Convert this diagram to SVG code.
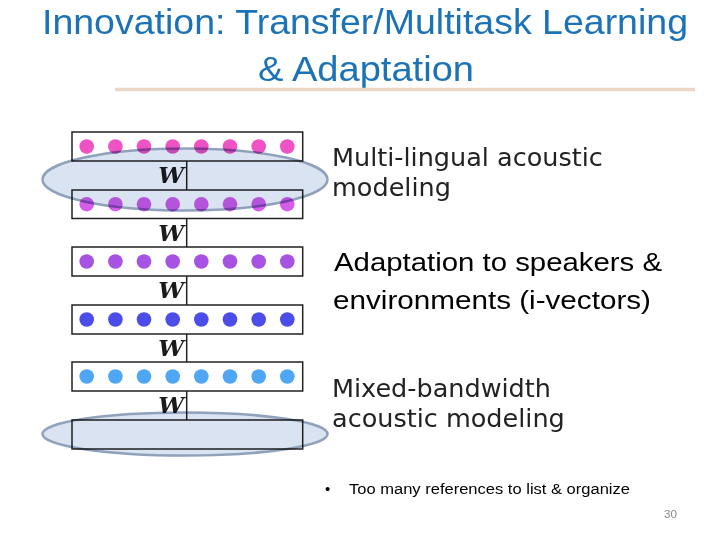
<svg xmlns="http://www.w3.org/2000/svg" width="720" height="540" viewBox="0 0 720 540">
<style>
.box{fill:#fff;stroke:#222;stroke-width:1.5}
.ell{fill:#d9e3f1;stroke:#8fa1bb;stroke-width:2.5;mix-blend-mode:multiply}
.w{font-family:"DejaVu Serif",serif;font-style:italic;font-weight:bold;font-size:23px;fill:#1a1a1a;text-anchor:end}
.lbl{font-family:"DejaVu Sans",sans-serif;font-size:25.5px;fill:#222}
.cal{font-family:"Liberation Sans",sans-serif;fill:#000}
.title{font-family:"Liberation Sans",sans-serif;font-size:35px;fill:#1c72b6;text-anchor:middle}
.conn{stroke:#222;stroke-width:1.5;fill:none}
</style>
<defs>
<g id="dots">
<circle cx="86.7" cy="0" r="7.3"/><circle cx="115.4" cy="0" r="7.3"/><circle cx="144" cy="0" r="7.3"/><circle cx="172.7" cy="0" r="7.3"/>
<circle cx="201.3" cy="0" r="7.3"/><circle cx="230" cy="0" r="7.3"/><circle cx="258.7" cy="0" r="7.3"/><circle cx="287.3" cy="0" r="7.3"/>
</g>
</defs>
<rect width="720" height="540" fill="#fff"/>
<g id="title">
<text class="title" x="365" y="34" textLength="646" lengthAdjust="spacingAndGlyphs">Innovation: Transfer/Multitask Learning</text>
<text class="title" x="366" y="81" textLength="216" lengthAdjust="spacingAndGlyphs">&amp; Adaptation</text>
<line x1="115" y1="89.5" x2="695" y2="89.5" stroke="#e9d6c6" stroke-width="3.5"/>
</g>
<g id="connectors">
<line class="conn" x1="186.7" y1="161" x2="186.7" y2="190"/>
<line class="conn" x1="186.7" y1="218" x2="186.7" y2="247"/>
<line class="conn" x1="186.7" y1="276" x2="186.7" y2="305"/>
<line class="conn" x1="186.7" y1="334" x2="186.7" y2="362"/>
<line class="conn" x1="186.7" y1="391" x2="186.7" y2="420"/>
</g>
<g id="layer1"><rect class="box" x="72" y="132" width="230.7" height="29"/><use href="#dots" y="146.5" fill="#ee52c4"/></g>
<g id="layer2"><rect class="box" x="72" y="190" width="230.7" height="28.5"/><use href="#dots" y="204.2" fill="#d45ee8"/></g>
<g id="layer3"><rect class="box" x="72" y="247" width="230.7" height="29"/><use href="#dots" y="261.5" fill="#a652e2"/></g>
<g id="layer4"><rect class="box" x="72" y="305" width="230.7" height="29"/><use href="#dots" y="319.5" fill="#4c4ce8"/></g>
<g id="layer5"><rect class="box" x="72" y="362" width="230.7" height="29"/><use href="#dots" y="376.5" fill="#4ea6f4"/></g>
<g id="layer6"><rect class="box" x="72" y="420" width="230.7" height="29"/></g>
<g id="weights">
<text class="w" x="184" y="183">W</text>
<text class="w" x="184" y="241">W</text>
<text class="w" x="184" y="298">W</text>
<text class="w" x="184" y="356">W</text>
<text class="w" x="184" y="413">W</text>
</g>
<g id="ellipse-top"><ellipse class="ell" cx="185" cy="179.5" rx="142.5" ry="31"/></g>
<g id="ellipse-bottom"><ellipse class="ell" cx="185" cy="434" rx="142.5" ry="21.5"/></g>
<g id="label-multilingual">
<text class="lbl" x="332" y="166">Multi-lingual acoustic</text>
<text class="lbl" x="332" y="196">modeling</text>
</g>
<g id="label-adaptation">
<text class="cal" x="334" y="271" font-size="25" textLength="328" lengthAdjust="spacingAndGlyphs">Adaptation to speakers &amp;</text>
<text class="cal" x="333" y="309" font-size="25" textLength="318" lengthAdjust="spacingAndGlyphs">environments (i-vectors)</text>
</g>
<g id="label-mixed">
<text class="lbl" x="332" y="397">Mixed-bandwidth</text>
<text class="lbl" x="332" y="427">acoustic modeling</text>
</g>
<g id="bullet">
<text class="cal" x="325" y="494" font-size="15">•</text>
<text class="cal" x="349" y="494" font-size="15.5" textLength="281" lengthAdjust="spacingAndGlyphs">Too many references to list &amp; organize</text>
</g>
<text class="cal" x="664" y="518" font-size="11" style="fill:#8a8a8a" textLength="13" lengthAdjust="spacingAndGlyphs">30</text>
</svg>
